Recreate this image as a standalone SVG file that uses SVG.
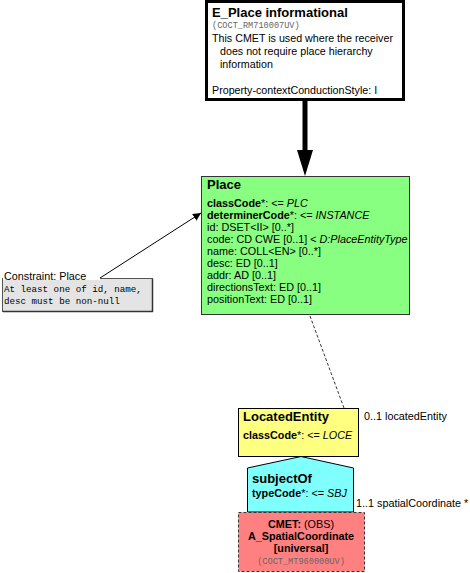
<svg xmlns="http://www.w3.org/2000/svg" width="470" height="573" viewBox="0 0 470 573">
<defs>
<style>
text{font-family:"Liberation Sans",Arial,sans-serif;fill:#000}
.t{font-size:13px;font-weight:bold}
.a{font-size:10.8px}
.b{font-weight:bold}
.i{font-style:italic}
.m{font-family:"Liberation Mono","Courier New",monospace}
.id{font-size:8.6px;fill:#666}
.c{text-anchor:middle}
</style>
<marker id="arr" viewBox="0 0 10 10" refX="10" refY="5" markerWidth="8" markerHeight="8" orient="auto" markerUnits="userSpaceOnUse">
<path d="M0,0 L10,5 L0,10 z" fill="#000"/>
</marker>
</defs>
<rect width="470" height="573" fill="#fff"/>
<g id="connectors">
<line x1="305" y1="99" x2="305" y2="152" stroke="#000" stroke-width="5"/>
<polygon points="297,150 313,150 305,176" fill="#000"/>
<line x1="100" y1="278" x2="201" y2="213" stroke="#000" stroke-width="1" marker-end="url(#arr)"/>
<line x1="310" y1="316" x2="344" y2="408" stroke="#333" stroke-width="1" stroke-dasharray="3,2"/>
<text class="a" x="364" y="420">0..1 locatedEntity</text>
<text class="a" x="356" y="507">1..1 spatialCoordinate  *</text>
</g>
<g id="E_Place">
<rect x="206.5" y="1.5" width="197" height="98" fill="#fff" stroke="#000" stroke-width="3"/>
<text class="t" x="212" y="17">E_Place informational</text>
<text class="m id" x="212" y="28">(COCT_RM710007UV)</text>
<text style="font-size:10.7px" x="212" y="42">This CMET is used where the receiver</text>
<text style="font-size:10.7px" x="220" y="55">does not require place hierarchy</text>
<text style="font-size:10.7px" x="220" y="68">information</text>
<text style="font-size:10.7px" x="212" y="94">Property-contextConductionStyle: I</text>
</g>
<g id="Place">
<rect x="201.5" y="176.5" width="208" height="138" fill="#88ff80" stroke="#333" stroke-width="1"/>
<text class="t" x="207" y="189">Place</text>
<text class="a" x="207" y="207"><tspan class="b">classCode</tspan>*: &lt;= <tspan class="i">PLC</tspan></text>
<text class="a" x="207" y="219"><tspan class="b">determinerCode</tspan>*: &lt;= <tspan class="i">INSTANCE</tspan></text>
<text class="a" x="207" y="231">id: DSET&lt;II&gt; [0..*]</text>
<text class="a" x="207" y="243">code: CD CWE [0..1] &lt; <tspan class="i">D:PlaceEntityType</tspan></text>
<text class="a" x="207" y="255">name: COLL&lt;EN&gt; [0..*]</text>
<text class="a" x="207" y="267">desc: ED [0..1]</text>
<text class="a" x="207" y="279">addr: AD [0..1]</text>
<text class="a" x="207" y="291">directionsText: ED [0..1]</text>
<text class="a" x="207" y="303">positionText: ED [0..1]</text>
</g>
<g id="Constraint">
<rect x="2.5" y="278.5" width="150" height="33" fill="#e4e4e4" stroke="#555" stroke-width="1"/>
<line x1="3" y1="311.5" x2="153" y2="311.5" stroke="#333" stroke-width="1.5"/>
<line x1="152.5" y1="279" x2="152.5" y2="312" stroke="#333" stroke-width="1.5"/>
<rect x="3" y="269" width="97" height="11" fill="#fff"/>
<text class="a" x="4" y="280">Constraint: Place</text>
<text class="m" style="font-size:9.2px" x="4" y="292">At least one of id, name,</text>
<text class="m" style="font-size:9.2px" x="4" y="304">desc must be non-null</text>
</g>
<g id="LocatedEntity">
<rect x="238.5" y="408.5" width="120" height="48" fill="#ffff80" stroke="#000" stroke-width="1"/>
<text class="t" x="243" y="421">LocatedEntity</text>
<text class="a" x="243" y="439"><tspan class="b">classCode</tspan>*: &lt;= <tspan class="i">LOCE</tspan></text>
</g>
<g id="subjectOf">
<polygon points="247.5,468 301,456.5 353.5,468 353.5,512 247.5,512" fill="#80ffff" stroke="#000" stroke-width="1"/>
<text class="t" x="252" y="483">subjectOf</text>
<text class="a" x="252" y="497"><tspan class="b">typeCode</tspan>*: &lt;= <tspan class="i">SBJ</tspan></text>
</g>
<g id="CMET">
<rect x="238.5" y="512.5" width="126" height="59" fill="#ff8080" stroke="#333" stroke-width="1" stroke-dasharray="3,2"/>
<text class="a c" x="301" y="528"><tspan class="b">CMET:</tspan> (OBS)</text>
<text class="a c b" x="301" y="540">A_SpatialCoordinate</text>
<text class="a c b" x="301" y="552">[universal]</text>
<text class="m id c" x="301" y="564">(COCT_MT960000UV)</text>
</g>
</svg>
